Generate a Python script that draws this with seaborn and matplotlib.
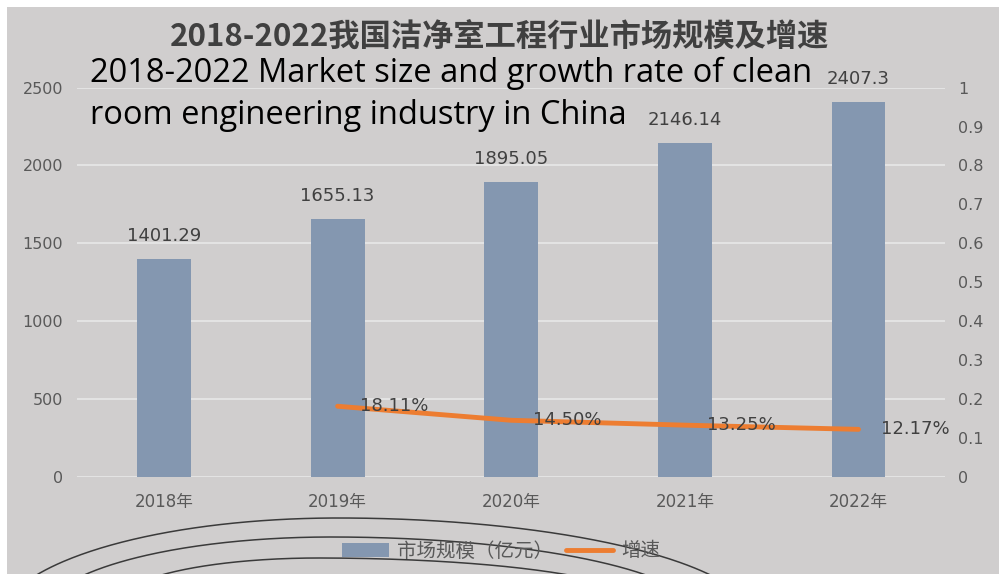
import matplotlib
matplotlib.use("Agg")
import matplotlib.pyplot as plt
import seaborn as sns
import numpy as np
import pandas as pd
from matplotlib.patches import Rectangle
from matplotlib.ticker import FixedLocator, FuncFormatter
from matplotlib.font_manager import FontProperties

# ---------------- data ----------------
years = ["2018年", "2019年", "2020年", "2021年", "2022年"]
market_size = [1401.29, 1655.13, 1895.05, 2146.14, 2407.3]
growth_years = ["2019年", "2020年", "2021年", "2022年"]
growth_rate = [0.1811, 0.1450, 0.1325, 0.1217]
left_ticks = [0, 500, 1000, 1500, 2000, 2500]
right_ticks = [0, 0.1, 0.2, 0.3, 0.4, 0.5, 0.6, 0.7, 0.8, 0.9, 1.0]
title_cn = "2018-2022我国洁净室工程行业市场规模及增速"
title_en_1 = "2018-2022 Market size and growth rate of clean"
title_en_2 = "room engineering industry in China"
legend_labels = ["市场规模（亿元）", "增速"]

# ---------------- style ----------------
sns.set_theme(style="white")
plt.rcParams["font.family"] = ["DejaVu Sans", "Noto Sans CJK SC"]

W, H = 999, 574
BG = "#D0CECE"
BAR = "#8497B0"
LINE = "#ED7D31"
TICK = "#595959"
LAB = "#404040"

fig = plt.figure(figsize=(W / 100, H / 100), dpi=100, facecolor="white")
fig.patches.append(Rectangle((7 / W, 0), 1, 1 - 7 / H, transform=fig.transFigure,
                             facecolor=BG, edgecolor="none", zorder=-10))

L, R, T, B = 77.2, 945.3, 87.7, 476.7
ax = fig.add_axes([L / W, 1 - B / H, (R - L) / W, (B - T) / H])
ax.set_facecolor("none")

df = pd.DataFrame({"year": years, "size": market_size})
sns.barplot(data=df, x="year", y="size", color=BAR, saturation=1, width=0.31,
            ax=ax, label=legend_labels[0], linewidth=0, edgecolor="none")
if ax.get_legend() is not None:
    ax.get_legend().remove()
ax.set_xlim(-0.5, len(years) - 0.5)
ax.set_ylim(left_ticks[0], left_ticks[-1])
ax.yaxis.set_major_locator(FixedLocator(left_ticks))
ax.yaxis.grid(True, color="#E8E8E8", linewidth=1.2)
ax.xaxis.grid(False)
ax.set_axisbelow(True)
ax.set_xlabel("")
ax.set_ylabel("")
for s in ax.spines.values():
    s.set_visible(False)
ax.tick_params(axis="y", length=0, pad=10, labelsize=11.5, labelcolor=TICK)
ax.tick_params(axis="x", length=0, pad=12, labelsize=12, labelcolor=TICK)

ax.bar_label(ax.containers[0], labels=[f"{v:g}" for v in market_size],
             padding=10, fontsize=13, color=LAB)

# growth line on secondary axis
ax2 = ax.twinx()
gx = [years.index(y) for y in growth_years]
sns.lineplot(x=gx, y=growth_rate, ax=ax2, color=LINE, linewidth=3.5,
             label=legend_labels[1], legend=False, sort=False)
ax2.set_ylim(right_ticks[0], right_ticks[-1])
ax2.yaxis.set_major_locator(FixedLocator(right_ticks))
ax2.yaxis.set_major_formatter(FuncFormatter(lambda v, p: f"{v:g}"))
ax2.grid(False)
ax2.set_ylabel("")
for s in ax2.spines.values():
    s.set_visible(False)
ax2.tick_params(axis="y", length=0, pad=9, labelsize=11.5, labelcolor=TICK)
for x, v in zip(gx, growth_rate):
    ax2.annotate(f"{v * 100:.2f}%", (x, v), xytext=(16, 0), textcoords="offset points",
                 ha="left", va="center", fontsize=13, color=LAB)
ax.set_xlim(-0.5, len(years) - 0.5)

# legend
h1, l1 = ax.get_legend_handles_labels()
h2, l2 = ax2.get_legend_handles_labels()
fig.legend(h1 + h2, l1 + l2, loc="center", bbox_to_anchor=(501 / W, 1 - 551 / H),
           ncol=2, frameon=False, handlelength=2.4, handletextpad=0.4,
           columnspacing=0.7, labelcolor=TICK,
           prop=FontProperties(family=["Noto Sans CJK SC"], size=14))

# titles
fig.text(500 / W, 1 - 37 / H, title_cn, ha="center", va="center", fontsize=22.5,
         fontweight="bold", color=LAB, family=["Noto Sans CJK SC"])
fig.text(90 / W, 1 - 81.7 / H, title_en_1, ha="left", va="baseline", fontsize=23.5,
         family=["Open Sans"], color="black")
fig.text(90 / W, 1 - 123.5 / H, title_en_2, ha="left", va="baseline", fontsize=23.5,
         family=["Open Sans"], color="black")

# decorative arcs at the bottom
ov = fig.add_axes([0, 0, 1, 1], zorder=5)
ov.set_xlim(0, W)
ov.set_ylim(H, 0)
ov.axis("off")
ov.patch.set_alpha(0)
for cx, peak, al, ar, b in [(338, 518, 340, 420, 106), (331, 537, 290, 370, 80), (318, 558, 200, 320, 45)]:
    t = np.linspace(np.pi, 0, 300)
    a = np.where(np.cos(t) < 0, al, ar)
    xs = cx + a * np.cos(t)
    ys = peak + b * (1 - np.sin(t))
    ov.plot(xs, ys, color="#3A3A3A", linewidth=1.1)

fig.savefig("out.png", dpi=100, facecolor=fig.get_facecolor())
